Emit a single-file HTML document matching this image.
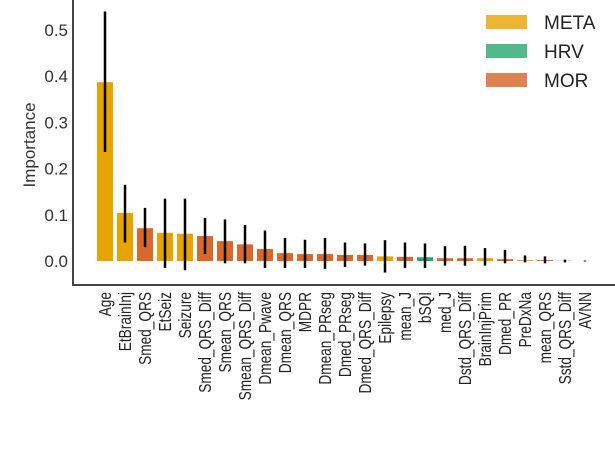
<!DOCTYPE html>
<html><head><meta charset="utf-8"><style>
html,body{margin:0;padding:0;background:#fff;}
svg{display:block;font-family:"Liberation Sans",Arial,sans-serif;}
</style></head><body>
<svg id="chart" width="615" height="454">
<g id="bars"></g>
<g id="errs"></g>
<g id="yticks"></g>
<g id="xlabels"></g>
<line x1="73" y1="0" x2="73" y2="286" stroke="#444" stroke-width="2"/>
<line x1="72" y1="285" x2="615" y2="285" stroke="#444" stroke-width="2"/>
<text x="35" y="145" font-size="17" fill="#333" text-anchor="middle" transform="rotate(-90 35 145)">Importance</text>
<g>
<g><rect x="486" y="15" width="41" height="14" fill="#ecb535"/><text x="544" y="29" font-size="19" fill="#222">META</text></g>
<g><rect x="486" y="44" width="41" height="14" fill="#52b98c"/><text x="544" y="58" font-size="19" fill="#222">HRV</text></g>
<g><rect x="486" y="73" width="41" height="14" fill="#dd8250"/><text x="544" y="87" font-size="19" fill="#222">MOR</text></g>
</g>
</svg>
<script>
const categories=["Age","EtBrainInj","Smed_QRS","EtSeiz","Seizure","Smed_QRS_Diff","Smean_QRS","Smean_QRS_Diff","Dmean_Pwave","Dmean_QRS","MDPR","Dmean_PRseg","Dmed_PRseg","Dmed_QRS_Diff","Epilepsy","mean_J","bSQI","med_J","Dstd_QRS_Diff","BrainInjPrim","Dmed_PR","PreDxNa","mean_QRS","Sstd_QRS_Diff","AVNN"];
const groups=["META","META","MOR","META","META","MOR","MOR","MOR","MOR","MOR","MOR","MOR","MOR","MOR","META","MOR","HRV","MOR","MOR","META","MOR","META","MOR","MOR","HRV"];
const values=[0.387,0.104,0.071,0.061,0.059,0.054,0.043,0.036,0.026,0.017,0.015,0.015,0.013,0.013,0.010,0.009,0.008,0.006,0.006,0.006,0.004,0.002,0.002,0.0005,0];
const errLow=[0.236,0.040,0.030,-0.015,-0.020,0.015,-0.005,-0.005,-0.015,-0.015,-0.015,-0.017,-0.013,-0.010,-0.025,-0.015,-0.015,-0.010,-0.010,-0.010,-0.005,-0.003,-0.005,-0.003,-0.001];
const errHigh=[0.540,0.165,0.115,0.135,0.135,0.093,0.090,0.078,0.066,0.050,0.046,0.050,0.040,0.038,0.045,0.040,0.038,0.032,0.033,0.028,0.024,0.012,0.010,0.003,0.001];
const yTicks=[0.0,0.1,0.2,0.3,0.4,0.5];
const colors={META:"#e6a400",HRV:"#2a9f6e",MOR:"#d7692c"};
const NS="http://www.w3.org/2000/svg";
const y=v=>261-v*462;
const x=i=>105+i*20;
const bw=16;
function mk(t,a,p){const e=document.createElementNS(NS,t);for(const k in a)e.setAttribute(k,a[k]);p.appendChild(e);return e;}
const gb=document.getElementById('bars'),ge=document.getElementById('errs'),gy=document.getElementById('yticks'),gx=document.getElementById('xlabels');
categories.forEach((c,i)=>{
 const top=y(Math.max(values[i],0)),bot=y(Math.min(values[i],0));
 const r=mk('rect',{x:x(i)-bw/2,y:top,width:bw,height:Math.max(bot-top,0),fill:colors[groups[i]]},gb);
 
 
 const l=mk('line',{x1:x(i),x2:x(i),y1:y(errLow[i]),y2:y(errHigh[i]),stroke:'#000','stroke-width':2.5},ge);
 
 
 const t=mk('text',{x:0,y:0,'font-size':18,fill:'#222','text-anchor':'end',transform:`translate(${x(i)+6},292) rotate(-90) scale(0.76,1)`},gx);
 t.textContent=c;
 
 
});
yTicks.forEach(v=>{
 const t=mk('text',{x:68,y:y(v)+6,'font-size':17,fill:'#333','text-anchor':'end'},gy);
 t.textContent=v.toFixed(1);
 
 
});
</script>
</body></html>
